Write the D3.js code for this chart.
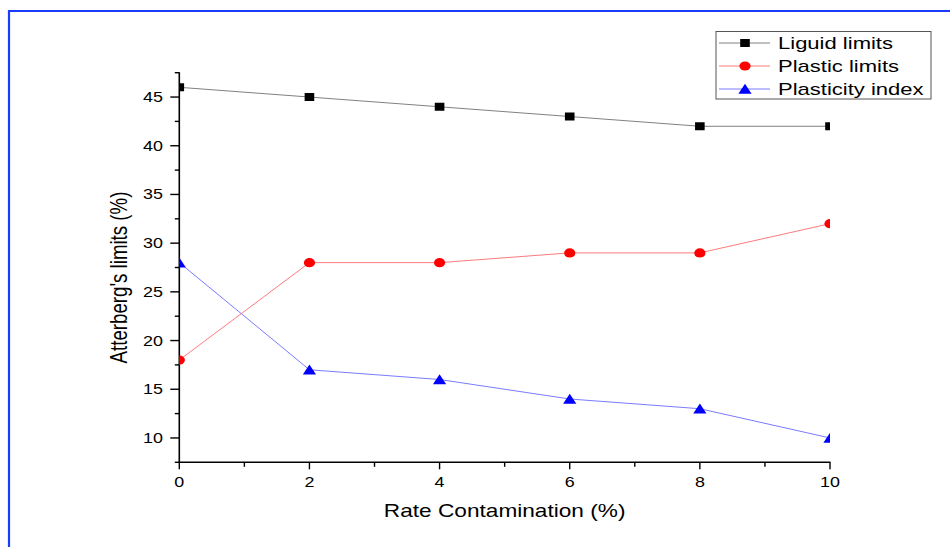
<!DOCTYPE html>
<html>
<head>
<meta charset="utf-8">
<script src="https://cdn.jsdelivr.net/npm/d3@7"></script>
<style>
  html, body { margin: 0; padding: 0; background: #fff; }
  svg { display: block; }
  text { font-family: "Liberation Sans", Arial, sans-serif; fill: #000; }
</style>
</head>
<body>
<svg id="chart" width="950" height="547"></svg>
<script>
// ---- data ----
const rates = [0, 2, 4, 6, 8, 10];
const liquidLimits = [46, 45, 44, 43, 42, 42];
const plasticLimits = [18, 28, 28, 29, 29, 32];
const plasticityIndex = [28, 17, 16, 14, 13, 10];
const seriesNames = ["Liguid limits", "Plastic limits", "Plasticity index"];
const xTicks = [0, 2, 4, 6, 8, 10];
const yTicks = [10, 15, 20, 25, 30, 35, 40, 45];
const xTitle = "Rate Contamination (%)";
const yTitle = "Atterberg's limits (%)";

(function () {
// ---- layout ----
const svg = d3.select("#chart");
const SX = 1.28; // horizontal stretch of text as in reference
const pL = 179.3, pR = 830, pT = 72.7, pB = 462.3;
const x = d3.scaleLinear().domain([0, 10]).range([pL, pR]);
const y = d3.scaleLinear().domain([7.5, 47.5]).range([pB, pT]);

// blue frame
svg.append("path")
  .attr("d", `M9,560 L9,11 L960,11`)
  .attr("fill", "none").attr("stroke", "#1a3cff").attr("stroke-width", 2.2);

function stretchedText(g, tx, ty, str, size, anchor, rot) {
  return g.append("text")
    .attr("transform", `translate(${tx},${ty}) scale(${SX},1)` + (rot ? ` rotate(${rot})` : ""))
    .attr("text-anchor", anchor)
    .style("font-size", size + "px")
    .text(str);
}

// axes
const axisG = svg.append("g");
axisG.append("line").attr("x1", pL - 1).attr("x2", pR + 0.5)
  .attr("y1", pB).attr("y2", pB).attr("stroke", "#000").attr("stroke-width", 1.6);
const xMinor = d3.range(1, 10, 2);
xTicks.forEach(v => {
  axisG.append("line").attr("x1", x(v)).attr("x2", x(v)).attr("y1", pB).attr("y2", pB + 7)
    .attr("stroke", "#000").attr("stroke-width", 1.4);
  stretchedText(axisG, x(v), pB + 25, String(v), 14, "middle");
});
xMinor.forEach(v => {
  axisG.append("line").attr("x1", x(v)).attr("x2", x(v)).attr("y1", pB).attr("y2", pB + 4.5)
    .attr("stroke", "#000").attr("stroke-width", 1.4);
});
axisG.append("line").attr("x1", pL).attr("x2", pL)
  .attr("y1", pT - 0.5).attr("y2", pB + 0.8).attr("stroke", "#000").attr("stroke-width", 1.6);
const yMinor = d3.range(7.5, 48, 5);
yTicks.forEach(v => {
  axisG.append("line").attr("x1", pL - 9).attr("x2", pL).attr("y1", y(v)).attr("y2", y(v))
    .attr("stroke", "#000").attr("stroke-width", 1.4);
  stretchedText(axisG, 163, y(v) + 5, String(v), 14, "end");
});
yMinor.forEach(v => {
  axisG.append("line").attr("x1", pL - 4.5).attr("x2", pL).attr("y1", y(v)).attr("y2", y(v))
    .attr("stroke", "#000").attr("stroke-width", 1.4);
});

// titles
stretchedText(svg, (pL + pR) / 2, 517, xTitle, 17.7, "middle");
stretchedText(svg, 127, (pT + pB) / 2 + 10, yTitle, 18.7, "middle", -90);

// clip
svg.append("clipPath").attr("id", "plotclip").append("rect")
  .attr("x", pL).attr("y", pT).attr("width", pR - pL).attr("height", pB - pT);

function markerPath(type) {
  if (type === "square") return "M-4.8,-4 L4.8,-4 L4.8,4 L-4.8,4 Z";
  if (type === "circle") return "M-5.6,0 A5.6,4.6 0 1,0 5.6,0 A5.6,4.6 0 1,0 -5.6,0 Z";
  return "M0,-5.2 L6.6,4.8 L-6.6,4.8 Z";
}
const series = [
  { name: seriesNames[0], values: liquidLimits, line: "#808080", fill: "#000000", marker: "square" },
  { name: seriesNames[1], values: plasticLimits, line: "#ff7b7b", fill: "#ff0000", marker: "circle" },
  { name: seriesNames[2], values: plasticityIndex, line: "#7b7bff", fill: "#0000ff", marker: "triangle" }
];

const plot = svg.append("g").attr("clip-path", "url(#plotclip)");
const lineGen = d3.line().x((d, i) => x(rates[i])).y(d => y(d));
series.forEach(s => {
  plot.append("path").datum(s.values).attr("d", lineGen)
    .attr("fill", "none").attr("stroke", s.line).attr("stroke-width", 1);
});
series.forEach(s => {
  plot.selectAll(null).data(s.values).enter().append("path")
    .attr("transform", (d, i) => `translate(${x(rates[i])},${y(d)})`)
    .attr("d", markerPath(s.marker)).attr("fill", s.fill);
});

// legend
const lg = svg.append("g");
lg.append("rect").attr("x", 716).attr("y", 31.5).attr("width", 215).attr("height", 67.5)
  .attr("fill", "#fff").attr("stroke", "#555").attr("stroke-width", 1);
series.forEach((s, i) => {
  const ry = 43 + i * 23;
  lg.append("line").attr("x1", 719).attr("x2", 770).attr("y1", ry).attr("y2", ry)
    .attr("stroke", s.line).attr("stroke-width", 1);
  lg.append("path").attr("transform", `translate(745,${ry})`).attr("d", markerPath(s.marker)).attr("fill", s.fill);
  stretchedText(lg, 778, ry + 6.3, s.name, 17.2, "start");
});
})();
</script>
</body>
</html>
